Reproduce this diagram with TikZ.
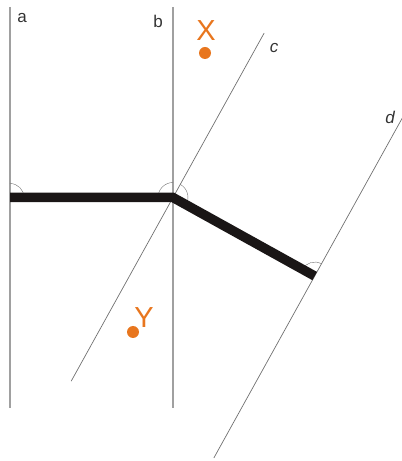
\documentclass[tikz,border=0pt]{standalone}
\usepackage{fontspec}
\setmainfont{Liberation Sans}
\usetikzlibrary{calc}
\definecolor{orng}{HTML}{E8761E}
\definecolor{lgray}{HTML}{A0A0A0}
\definecolor{dgray}{HTML}{707070}
\definecolor{thick}{HTML}{1A1616}
\tikzset{
  vline/.style={draw=lgray, line width=1.1pt},
  sline/.style={draw=dgray, line width=0.7pt},
  bar/.style={draw=thick, line width=9.5pt, line join=miter},
  anglemark/.style={draw=dgray, line width=0.4pt},
  lbl/.style={text=black!80, font=\fontsize{17}{17}\selectfont, inner sep=0pt},
  ilbl/.style={lbl, font=\fontsize{17}{17}\selectfont\itshape},
  big/.style={text=orng, font=\fontsize{29}{29}\selectfont, inner sep=0pt},
  dot/.style={circle, fill=orng, minimum size=12pt, inner sep=0pt}
}
\begin{document}
\begin{tikzpicture}[x=1pt,y=1pt]
\useasboundingbox (0,0) rectangle (402,461);
% named points
\coordinate (A) at (10,263.5);
\coordinate (J) at (173,263.5);
\coordinate (E) at ($(J)+(-29:162)$);
\coordinate (aT) at (10,454);
\coordinate (aB) at (10,53);
\coordinate (bT) at (173,454);
\coordinate (bB) at (173,53);
\coordinate (cT) at ($(J)+(61:188)$);
\coordinate (cB) at ($(J)+(61:-210)$);
\coordinate (dT) at ($(E)+(61:184)$);
\coordinate (dB) at ($(E)+(61:-208)$);
% lines
\draw[vline] (aT) -- (aB);
\draw[vline] (bT) -- (bB);
\draw[sline] (cT) -- (cB);
\draw[sline] (dT) -- (dB);
% angle marks
\draw[anglemark] ($(A)+(90:14)$) arc[start angle=90, end angle=0, radius=14];
\draw[anglemark] ($(J)+(180:15)$) arc[start angle=180, end angle=90, radius=15];
\draw[anglemark] ($(J)+(61:15)$) arc[start angle=61, end angle=-29, radius=15];
\draw[anglemark] ($(E)+(61:14)$) arc[start angle=61, end angle=151, radius=14];
% thick path
\draw[bar] (A) -- (J) -- (E);
% labels
\node[lbl] (la) at (22,443) {a};
\node[lbl] (lb) at (158,440) {b};
\node[ilbl] (lc) at (274,413) {c};
\node[ilbl] (ld) at (390,344) {d};
% points
\node[big] (X) at (206,430) {X};
\node[dot] (Xd) at (205,408) {};
\node[big] (Y) at (144,143) {Y};
\node[dot] (Yd) at (133,129) {};
\end{tikzpicture}
\end{document}
